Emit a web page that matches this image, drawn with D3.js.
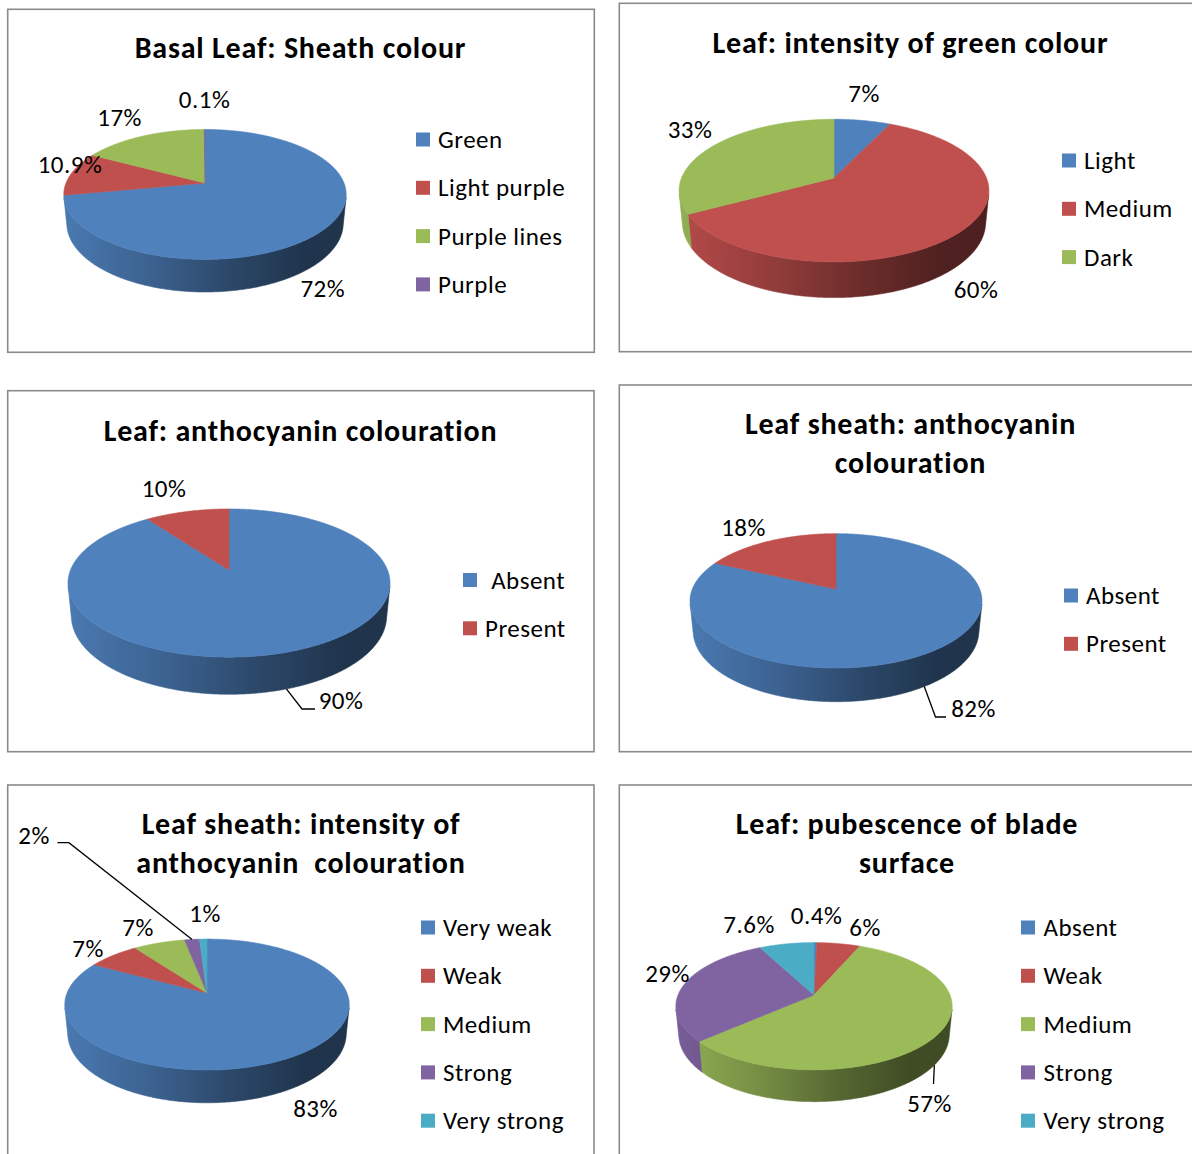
<!DOCTYPE html>
<html>
<head>
<meta charset="utf-8">
<script src="https://cdn.jsdelivr.net/npm/d3@7"></script>
<style>
  body { margin: 0; background: #fff; }
  svg { display: block; }
  text { font-family: Carlito, Lato, "Open Sans", sans-serif; fill: #000; }
  .legend-text, .title-text { white-space: pre; }
</style>
</head>
<body>
<svg id="chart" width="1192" height="1154"></svg>
<script>
// ---- Data ---------------------------------------------------------------
const palette = ["#4F81BD", "#C0504D", "#9BBB59", "#8064A2", "#4BACC6"];

const sheathColourCategories = ["Green", "Light purple", "Purple lines", "Purple"];
const sheathColourValues = [72, 10.9, 17, 0.1];

const greenIntensityCategories = ["Light", "Medium", "Dark"];
const greenIntensityValues = [7, 60, 33];

const leafAnthoCategories = [" Absent", "Present"];
const leafAnthoValues = [90, 10];

const sheathAnthoCategories = ["Absent", "Present"];
const sheathAnthoValues = [82, 18];

const sheathIntensityCategories = ["Very weak", "Weak", "Medium", "Strong", "Very strong"];
const sheathIntensityValues = [83, 7, 7, 2, 1];

const pubescenceCategories = ["Absent", "Weak", "Medium", "Strong", "Very strong"];
const pubescenceValues = [0.4, 6, 57, 29, 7.6];

// ---- Layout -------------------------------------------------------------
const panels = [
  {
    title: ["Basal Leaf: Sheath colour"], titleX: 300.5, titleY: 58,
    categories: sheathColourCategories, values: sheathColourValues,
    frame: [7.7, 9.3, 594.3, 352.3],
    pie: { cx: 205, cy: 183, r: 139 },
    legend: { sqX: 416, textX: 438, y0: 139.5 },
    labels: [[322.8, 297], [70, 172.5], [119.6, 126], [204.5, 108]],
    leaders: []
  },
  {
    title: ["Leaf: intensity of green colour"], titleX: 910.5, titleY: 53,
    categories: greenIntensityCategories, values: greenIntensityValues,
    frame: [619.3, 3.3, 1210, 351.7],
    pie: { cx: 834, cy: 178, r: 152.5 },
    legend: { sqX: 1062, textX: 1084, y0: 160.5 },
    labels: [[864, 102], [976, 297.5], [690, 137.5]],
    leaders: []
  },
  {
    title: ["Leaf: anthocyanin colouration"], titleX: 300.5, titleY: 441,
    categories: leafAnthoCategories, values: leafAnthoValues,
    frame: [7.7, 390.7, 594, 751.7],
    pie: { cx: 229, cy: 570, r: 158.5 },
    legend: { sqX: 463, textX: 485, y0: 580 },
    labels: [[341, 709], [164, 497]],
    leaders: [{ index: 0, level: "bottom", path: [[302, 709], [315, 709]] }]
  },
  {
    title: ["Leaf sheath: anthocyanin", "colouration"], titleX: 910.5, titleY: 434,
    categories: sheathAnthoCategories, values: sheathAnthoValues,
    frame: [619.3, 385, 1210, 751.7],
    pie: { cx: 836, cy: 589, r: 143.7 },
    legend: { sqX: 1064, textX: 1086, y0: 595.5 },
    labels: [[973.5, 716.5], [743.5, 536]],
    leaders: [{ index: 0, level: "bottom", path: [[935.5, 717], [946, 717]] }]
  },
  {
    title: ["Leaf sheath: intensity of", "anthocyanin  colouration"], titleX: 301, titleY: 834,
    categories: sheathIntensityCategories, values: sheathIntensityValues,
    frame: [7.7, 785, 594, 1170],
    pie: { cx: 207, cy: 993, r: 140 },
    legend: { sqX: 421, textX: 443, y0: 927.5 },
    labels: [[315.5, 1117], [88, 957], [138, 936], [34, 843.5], [205, 921.5]],
    leaders: [{ index: 3, level: "top", path: [[68.9, 842.7], [57.4, 842.7]] }]
  },
  {
    title: ["Leaf: pubescence of blade", "surface"], titleX: 907, titleY: 834,
    categories: pubescenceCategories, values: pubescenceValues,
    frame: [619.3, 785, 1210, 1170],
    pie: { cx: 814, cy: 995, r: 136 },
    legend: { sqX: 1021, textX: 1043.5, y0: 927.5 },
    labels: [[816.5, 924], [865, 936], [929.5, 1111.5], [667.5, 981.5], [749, 933]],
    leaders: [{ index: 2, level: "bottom", path: [[933.5, 1084]] }]
  }
];

// ---- 3D projection of a flat cylinder (tilted disc with perspective) ----
const SIN = 0.453, COS = Math.sqrt(1 - SIN * SIN);
const DIST = 5.06;          // camera distance in pie radii
const DEPTH = 0.235;        // slab thickness in pie radii
const VIS = Math.acos(-1 / (DIST * COS)); // wall silhouette angle

function projector(cx, cy, S) {
  return (theta, level) => {
    const X = Math.sin(theta), Z = Math.cos(theta), Y = level;
    const u = Y * COS + Z * SIN;
    const w = DIST + Z * COS - Y * SIN;
    return [cx + S * X * DIST / w, cy - S * u * DIST / w];
  };
}

function arcPoints(proj, t0, t1, level) {
  const n = Math.max(2, Math.ceil((t1 - t0) / (Math.PI / 360)));
  return d3.range(n + 1).map(i => proj(t0 + (t1 - t0) * i / n, level));
}

const svg = d3.select("#chart");
const defs = svg.append("defs");
const line = d3.line();
const color = d3.scaleOrdinal().range(palette);
const pieLayout = d3.pie().sort(null).value(d => d);

panels.forEach((p, pi) => {
  const g = svg.append("g");

  // frame
  const [x0, y0, x1, y1] = p.frame;
  g.append("rect")
    .attr("x", x0).attr("y", y0)
    .attr("width", x1 - x0).attr("height", y1 - y0)
    .attr("fill", "#fff")
    .attr("stroke", "#8a8a8a").attr("stroke-width", 1.6);

  // title
  p.title.forEach((t, i) => {
    g.append("text")
      .attr("class", "title-text")
      .attr("x", p.titleX).attr("y", p.titleY + i * 39)
      .attr("text-anchor", "middle")
      .attr("font-weight", "bold")
      .attr("font-size", 30)
      .attr("letter-spacing", 0.8)
      .text(t);
  });

  const proj = projector(p.pie.cx, p.pie.cy, p.pie.r);
  const arcs = pieLayout(p.values);
  color.domain(d3.range(p.values.length));

  // side-wall gradients, lighter on the left and darkening to the right
  const gx0 = proj(2 * Math.PI - VIS, -DEPTH)[0];
  const gx1 = proj(VIS, -DEPTH)[0];
  const stops = [[0, 0.93], [0.3, 0.76], [0.6, 0.55], [0.85, 0.41], [1, 0.40]];
  arcs.forEach((a, i) => {
    const base = d3.rgb(color(i));
    const grad = defs.append("linearGradient")
      .attr("id", `wall-${pi}-${i}`)
      .attr("gradientUnits", "userSpaceOnUse")
      .attr("x1", gx0).attr("x2", gx1).attr("y1", 0).attr("y2", 0);
    stops.forEach(([o, k]) => {
      grad.append("stop").attr("offset", o)
        .attr("stop-color", d3.rgb(base.r * k, base.g * k, base.b * k).formatHex());
    });
  });

  // visible outer walls
  arcs.forEach((a, i) => {
    const t0 = Math.max(a.startAngle, VIS);
    const t1 = Math.min(a.endAngle, 2 * Math.PI - VIS);
    if (t1 <= t0) return;
    const pts = arcPoints(proj, t0, t1, 0).concat(arcPoints(proj, t0, t1, -DEPTH).reverse());
    g.append("path")
      .attr("d", line(pts) + "Z")
      .attr("fill", `url(#wall-${pi}-${i})`)
      .attr("stroke", `url(#wall-${pi}-${i})`)
      .attr("stroke-width", 0.6);
  });

  // top faces, each slice fanning out from the pie centre
  const apexPt = proj(0, 0).map((v, k) => k === 0 ? p.pie.cx : p.pie.cy);
  arcs.forEach((a, i) => {
    const pts = [apexPt].concat(arcPoints(proj, a.startAngle, a.endAngle, 0));
    g.append("path")
      .attr("d", line(pts) + "Z")
      .attr("fill", color(i))
      .attr("stroke", color(i))
      .attr("stroke-width", 0.6)
      .attr("stroke-linejoin", "round");
  });

  // leader lines from slice rim to label
  p.leaders.forEach(ld => {
    const a = arcs[ld.index];
    const mid = (a.startAngle + a.endAngle) / 2;
    const start = proj(mid, ld.level === "top" ? 0 : -DEPTH);
    g.append("path")
      .attr("d", line([start].concat(ld.path)))
      .attr("fill", "none")
      .attr("stroke", "#000")
      .attr("stroke-width", 1.3);
  });

  // data labels
  arcs.forEach((a, i) => {
    const [lx, ly] = p.labels[i];
    g.append("text")
      .attr("x", lx).attr("y", ly)
      .attr("text-anchor", "middle")
      .attr("font-size", 25)
      .attr("letter-spacing", 0.5)
      .text(`${p.values[i]}%`);
  });

  // legend
  p.categories.forEach((c, i) => {
    const cy = p.legend.y0 + i * 48.3;
    g.append("rect")
      .attr("x", p.legend.sqX).attr("y", cy - 7)
      .attr("width", 14).attr("height", 14)
      .attr("fill", color(i));
    g.append("text")
      .attr("class", "legend-text")
      .attr("x", p.legend.textX).attr("y", cy + 8.5)
      .attr("font-size", 25)
      .attr("letter-spacing", 0.5)
      .text(c);
  });
});
</script>
</body>
</html>
